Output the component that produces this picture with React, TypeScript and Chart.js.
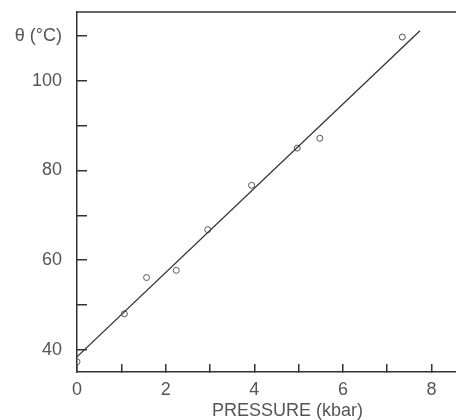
import React, { useEffect, useRef } from "react";
import { Chart, registerables } from "chart.js";

Chart.register(...registerables);

// Measured data points (pressure in kbar, Curie temperature in °C)
const pressureKbar = [0, 1.07, 1.57, 2.24, 2.95, 3.94, 4.97, 5.48, 7.34];
const thetaC = [37.3, 48.0, 56.1, 57.7, 66.8, 76.7, 85.0, 87.2, 109.8];

// Fitted straight line end points
const fitPressure = [0, 7.74];
const fitTheta = [38.4, 111.2];

// Axis ticks
const xTickValues = [0, 1, 2, 3, 4, 5, 6, 7, 8, 9];
const xTickLabels = ["0", "", "2", "", "4", "", "6", "", "8", ""];
const yTickValues = [40, 50, 60, 70, 80, 90, 100, 110];
const yTickLabels = ["40", "", "60", "", "80", "", "100", "θ (°C)"];

const xTitle = "PRESSURE (kbar)";

const INK = "#333";
const TEXT = "#555";
const FONT = "'Liberation Sans', Arial, sans-serif";

const framePlugin = {
  id: "frameTop",
  afterDraw(chart: any) {
    const { ctx, chartArea } = chart;
    ctx.save();
    ctx.strokeStyle = INK;
    ctx.lineWidth = 1.5;
    ctx.beginPath();
    ctx.moveTo(chartArea.left, chartArea.top);
    ctx.lineTo(chartArea.right, chartArea.top);
    ctx.stroke();
    ctx.restore();
  },
};

export default function App() {
  const ref = useRef<HTMLCanvasElement | null>(null);

  useEffect(() => {
    if (!ref.current) return;
    const chart = new Chart(ref.current, {
      type: "scatter",
      data: {
        datasets: [
          {
            type: "line",
            data: fitPressure.map((x, i) => ({ x, y: fitTheta[i] })),
            borderColor: INK,
            borderWidth: 1.3,
            pointRadius: 0,
            fill: false,
          } as any,
          {
            type: "scatter",
            data: pressureKbar.map((x, i) => ({ x, y: thetaC[i] })),
            borderColor: "#555",
            backgroundColor: "rgba(255,255,255,0)",
            borderWidth: 1,
            pointRadius: 3,
          },
        ],
      },
      plugins: [framePlugin],
      options: {
        responsive: false,
        animation: false,
        layout: { padding: { top: 12, left: 0, right: 0, bottom: 0 } },
        plugins: {
          legend: { display: false },
          tooltip: { enabled: false },
        },
        scales: {
          x: {
            type: "linear",
            min: 0,
            max: 9.5,
            afterBuildTicks: (scale: any) => {
              scale.ticks = xTickValues.map((v) => ({ value: v }));
            },
            afterFit: (scale: any) => {
              scale.height = 48;
              scale.paddingLeft = 0;
              scale.paddingRight = 0;
            },
            ticks: {
              autoSkip: false,
              maxRotation: 0,
              padding: 15,
              color: TEXT,
              font: { family: FONT, size: 18 },
              callback: (_v: any, i: number) => xTickLabels[i] ?? "",
            },
            grid: {
              drawOnChartArea: false,
              drawTicks: true,
              tickLength: -8,
              color: INK,
              lineWidth: 1.5,
            },
            border: { display: true, color: INK, width: 1.5 },
            title: {
              display: true,
              text: xTitle,
              color: TEXT,
              font: { family: FONT, size: 18, lineHeight: 1 },
              padding: { top: 0, bottom: 0 },
            },
          },
          y: {
            type: "linear",
            min: 35,
            max: 115.4,
            afterBuildTicks: (scale: any) => {
              scale.ticks = yTickValues.map((v) => ({ value: v }));
            },
            afterFit: (scale: any) => {
              scale.width = 77;
              scale.paddingTop = 0;
              scale.paddingBottom = 0;
            },
            ticks: {
              autoSkip: false,
              padding: 25,
              color: TEXT,
              font: { family: FONT, size: 18 },
              callback: (_v: any, i: number) => yTickLabels[i] ?? "",
            },
            grid: {
              drawOnChartArea: false,
              drawTicks: true,
              tickLength: -10,
              color: INK,
              lineWidth: 1.5,
            },
            border: { display: true, color: INK, width: 1.5 },
          },
        },
      } as any,
    });
    return () => chart.destroy();
  }, []);

  return (
    <div
      style={{
        position: "absolute",
        left: 0,
        top: 0,
        width: 456,
        height: 420,
        overflow: "hidden",
        background: "#fff",
      }}
    >
      <canvas ref={ref} width={503} height={420} style={{ display: "block" }} />
    </div>
  );
}
